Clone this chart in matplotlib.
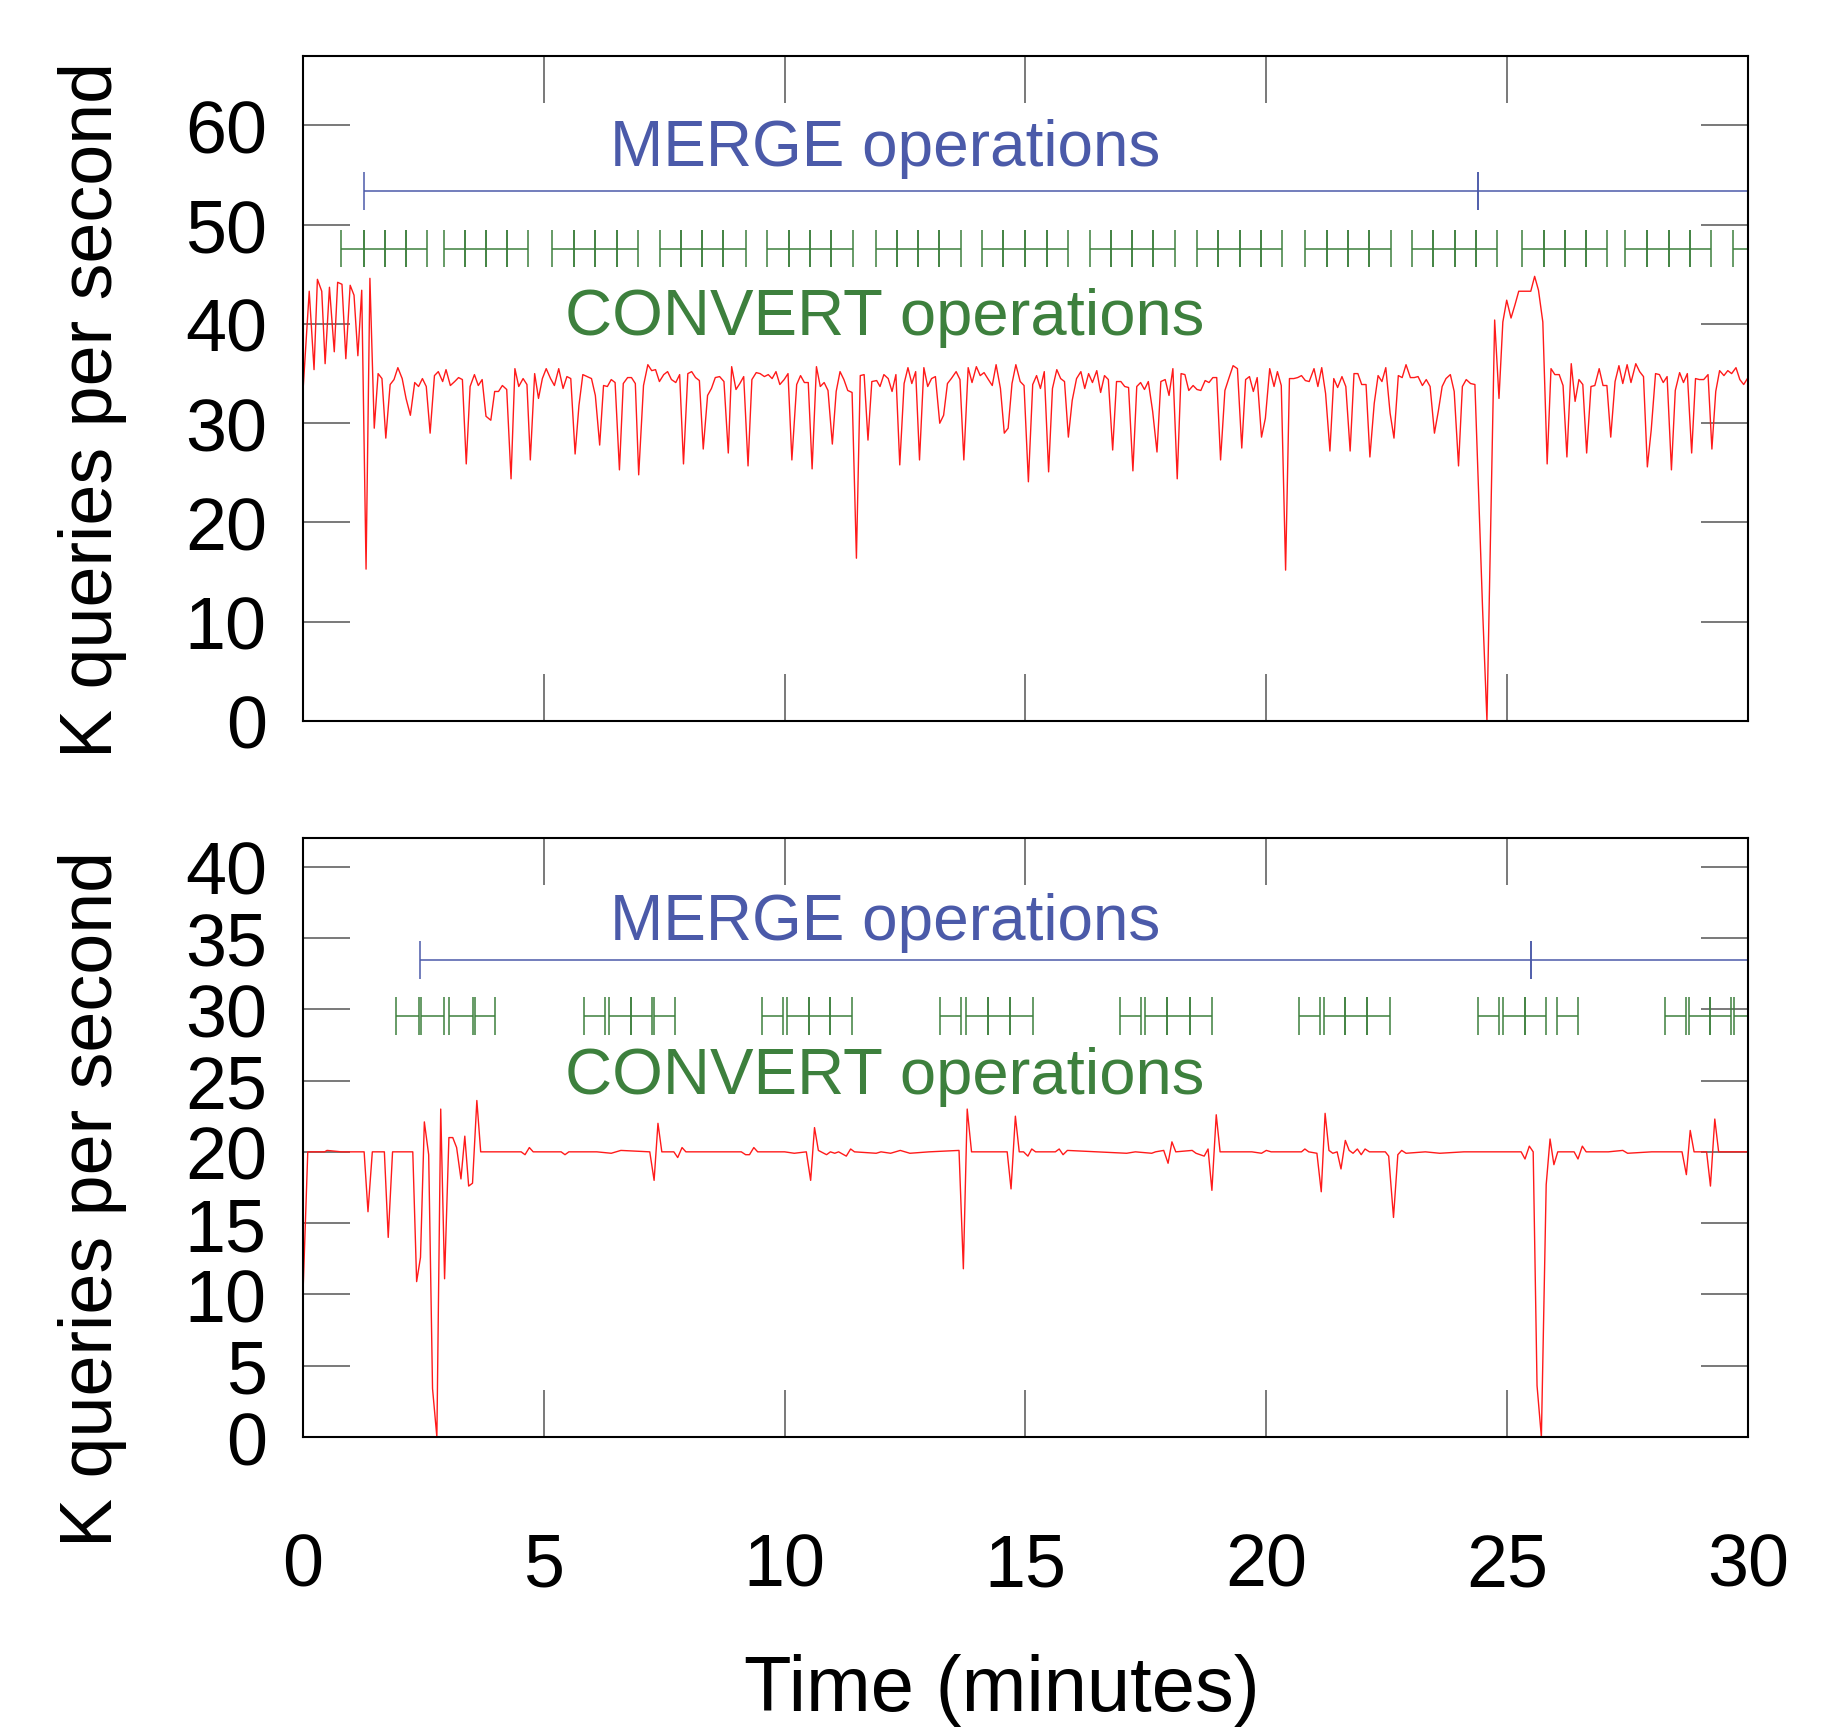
import matplotlib.pyplot as plt

plt.rcParams['font.family'] = ['Liberation Sans', 'DejaVu Sans']

# ---- top panel: throughput (K queries/s) sampled every ~5 s ----
top_t = [0.00, 0.13, 0.23, 0.30, 0.39, 0.46, 0.55, 0.65, 0.72, 0.81,
         0.89, 0.98, 1.06, 1.14, 1.22, 1.31, 1.39, 1.48, 1.56, 1.64,
         1.72, 1.81, 1.89, 1.97, 2.06, 2.14, 2.23, 2.32, 2.40, 2.48,
         2.56, 2.64, 2.73, 2.81, 2.90, 2.97, 3.06, 3.15, 3.23, 3.31,
         3.39, 3.47, 3.56, 3.64, 3.72, 3.80, 3.90, 3.98, 4.06, 4.14,
         4.23, 4.32, 4.40, 4.48, 4.57, 4.65, 4.72, 4.81, 4.89, 4.97,
         5.05, 5.14, 5.22, 5.31, 5.40, 5.48, 5.56, 5.65, 5.73, 5.81,
         5.90, 5.99, 6.07, 6.16, 6.24, 6.32, 6.40, 6.48, 6.57, 6.65,
         6.74, 6.82, 6.90, 6.97, 7.07, 7.16, 7.24, 7.32, 7.40, 7.49,
         7.57, 7.65, 7.74, 7.82, 7.90, 7.99, 8.07, 8.15, 8.23, 8.31,
         8.40, 8.48, 8.56, 8.65, 8.74, 8.83, 8.90, 8.99, 9.07, 9.15,
         9.24, 9.32, 9.41, 9.49, 9.58, 9.66, 9.74, 9.82, 9.90, 9.99,
         10.07, 10.15, 10.25, 10.33, 10.41, 10.49, 10.57, 10.66, 10.74, 10.82,
         10.90, 10.99, 11.07, 11.15, 11.23, 11.31, 11.40, 11.49, 11.57, 11.65,
         11.73, 11.81, 11.91, 11.98, 12.06, 12.15, 12.23, 12.31, 12.39, 12.48,
         12.56, 12.64, 12.72, 12.80, 12.89, 12.97, 13.05, 13.13, 13.22, 13.30,
         13.38, 13.46, 13.56, 13.64, 13.72, 13.81, 13.89, 13.98, 14.06, 14.14,
         14.23, 14.31, 14.39, 14.48, 14.56, 14.64, 14.72, 14.80, 14.89, 14.97,
         15.06, 15.15, 15.23, 15.31, 15.39, 15.48, 15.56, 15.65, 15.73, 15.81,
         15.89, 15.97, 16.06, 16.15, 16.23, 16.31, 16.39, 16.48, 16.56, 16.64,
         16.72, 16.81, 16.89, 16.98, 17.06, 17.14, 17.23, 17.31, 17.39, 17.47,
         17.55, 17.64, 17.73, 17.81, 17.90, 17.98, 18.06, 18.15, 18.23, 18.31,
         18.39, 18.48, 18.56, 18.64, 18.73, 18.81, 18.89, 18.97, 19.05, 19.14,
         19.22, 19.31, 19.40, 19.49, 19.57, 19.65, 19.73, 19.81, 19.90, 19.98,
         20.07, 20.16, 20.23, 20.31, 20.40, 20.48, 20.57, 20.65, 20.73, 20.81,
         20.89, 20.99, 21.07, 21.15, 21.23, 21.32, 21.40, 21.48, 21.57, 21.65,
         21.74, 21.82, 21.90, 21.98, 22.07, 22.15, 22.24, 22.32, 22.40, 22.48,
         22.57, 22.65, 22.74, 22.82, 22.90, 22.99, 23.07, 23.15, 23.24, 23.32,
         23.40, 23.49, 23.57, 23.65, 23.73, 23.82, 23.90, 23.99, 24.07, 24.15,
         24.24, 24.33, 24.41, 24.49, 24.58, 24.66, 24.74, 24.83, 24.91, 24.99,
         25.08, 25.16, 25.24, 25.33, 25.41, 25.49, 25.57, 25.65, 25.74, 25.83,
         25.91, 25.99, 26.08, 26.16, 26.24, 26.33, 26.41, 26.49, 26.57, 26.65,
         26.74, 26.82, 26.91, 26.99, 27.07, 27.15, 27.24, 27.32, 27.40, 27.49,
         27.57, 27.67, 27.75, 27.83, 27.91, 27.99, 28.08, 28.16, 28.24, 28.32,
         28.41, 28.49, 28.58, 28.66, 28.74, 28.83, 28.91, 28.99, 29.08, 29.17,
         29.25, 29.33, 29.41, 29.50, 29.58, 29.66, 29.75, 29.83, 29.91, 30.00]
top_q = [33.2, 43.3, 35.4, 44.5, 43.3, 36.0, 43.7, 37.2, 44.2, 44.0,
         36.5, 43.9, 42.9, 36.8, 43.4, 15.3, 44.6, 29.5, 35.0, 34.5,
         28.5, 33.9, 34.4, 35.6, 34.5, 32.5, 30.8, 34.1, 33.7, 34.5,
         33.7, 29.0, 34.8, 35.2, 34.2, 35.4, 33.8, 34.2, 34.6, 34.4,
         25.9, 33.7, 34.9, 33.8, 34.4, 30.7, 30.3, 33.2, 33.2, 33.8,
         33.4, 24.4, 35.5, 33.7, 34.5, 33.9, 26.3, 35.0, 32.5, 34.5,
         35.5, 34.5, 33.8, 35.5, 33.5, 34.7, 34.5, 26.9, 31.8, 34.9,
         34.7, 34.5, 32.8, 27.8, 33.8, 33.7, 34.4, 34.1, 25.3, 34.0,
         34.6, 34.6, 34.0, 24.8, 33.8, 35.9, 35.3, 35.4, 34.2, 34.9,
         35.2, 34.4, 34.1, 34.9, 25.9, 35.0, 35.2, 34.6, 34.3, 27.4,
         32.8, 33.5, 34.6, 34.7, 34.2, 27.0, 35.7, 33.4, 34.0, 34.7,
         25.7, 34.4, 35.1, 35.0, 34.7, 34.9, 34.5, 35.2, 33.9, 34.4,
         35.0, 26.3, 33.9, 34.8, 34.1, 34.1, 25.4, 35.7, 33.7, 34.1,
         33.3, 27.9, 33.2, 35.2, 34.4, 33.3, 33.1, 16.4, 34.8, 34.9,
         28.3, 34.2, 34.3, 33.7, 34.9, 34.5, 33.2, 34.9, 25.8, 34.0,
         35.6, 34.0, 35.2, 26.3, 35.6, 33.7, 34.5, 34.7, 30.0, 30.8,
         34.0, 34.5, 35.2, 34.4, 26.3, 35.6, 34.1, 35.7, 34.8, 35.1,
         34.4, 33.8, 35.9, 33.5, 29.0, 29.5, 34.0, 35.9, 34.2, 33.8,
         24.1, 33.9, 34.8, 33.5, 35.2, 25.1, 33.5, 35.4, 34.5, 34.2,
         28.6, 32.3, 34.5, 35.2, 33.5, 35.0, 34.1, 35.3, 33.1, 34.8,
         34.4, 27.3, 34.2, 34.2, 33.7, 33.6, 25.2, 33.7, 34.1, 33.4,
         34.2, 31.2, 27.1, 34.2, 34.4, 32.8, 35.5, 24.4, 35.0, 34.9,
         33.3, 33.8, 33.4, 33.3, 34.3, 34.1, 34.6, 34.6, 26.3, 33.3,
         34.5, 35.8, 35.5, 27.5, 34.4, 34.7, 33.2, 34.6, 28.6, 30.5,
         35.5, 33.7, 35.2, 33.8, 15.2, 34.5, 34.5, 34.6, 34.8, 34.3,
         34.2, 35.5, 33.7, 35.6, 33.0, 27.2, 34.5, 33.6, 34.7, 33.7,
         27.2, 35.0, 35.0, 33.9, 33.9, 26.6, 32.0, 34.8, 34.2, 35.6,
         31.0, 28.5, 34.8, 34.6, 35.9, 34.6, 34.6, 34.7, 33.8, 34.4,
         33.7, 29.0, 31.2, 33.7, 34.5, 34.9, 33.2, 25.7, 33.7, 34.4,
         34.0, 33.9, 22.5, 11.2, 0.0, 20.2, 40.4, 32.5, 40.2, 42.4,
         40.6, 41.9, 43.3, 43.3, 43.3, 43.3, 44.8, 43.4, 40.2, 25.9,
         35.5, 34.9, 34.9, 33.8, 26.6, 36.0, 32.2, 34.4, 33.9, 27.0,
         33.7, 33.8, 35.5, 33.8, 33.8, 28.6, 34.2, 35.8, 34.0, 35.9,
         34.1, 36.0, 35.2, 34.7, 25.6, 29.3, 35.0, 34.9, 34.1, 34.7,
         25.3, 33.3, 35.1, 34.1, 35.0, 27.0, 34.5, 34.4, 34.4, 34.9,
         27.4, 33.2, 35.3, 34.8, 35.3, 35.0, 35.6, 34.4, 33.9, 34.6]

top_merge_start = [1.26, 24.39]
top_merge_end = [24.39, 47.50]
top_convert_start = [0.79, 1.26, 1.70, 2.13, 2.92, 3.36, 3.79, 4.24,
                     5.17, 5.62, 6.07, 6.51, 7.41, 7.85, 8.29, 8.73,
                     9.64, 10.09, 10.52, 10.96, 11.89, 12.33, 12.77, 13.21,
                     14.10, 14.54, 14.99, 15.44, 16.34, 16.78, 17.21, 17.65,
                     18.56, 19.00, 19.45, 19.89, 20.81, 21.26, 21.70, 22.13,
                     23.03, 23.47, 23.92, 24.35, 25.31, 25.77, 26.20, 26.64,
                     27.45, 27.90, 28.35, 28.79, 29.69]
top_convert_end = [1.26, 1.70, 2.13, 2.57, 3.36, 3.79, 4.24, 4.68,
                   5.62, 6.07, 6.51, 6.95, 7.85, 8.29, 8.73, 9.19,
                   10.09, 10.52, 10.96, 11.41, 12.33, 12.77, 13.21, 13.66,
                   14.54, 14.99, 15.44, 15.88, 16.78, 17.21, 17.65, 18.10,
                   19.00, 19.45, 19.89, 20.33, 21.26, 21.70, 22.13, 22.58,
                   23.47, 23.92, 24.35, 24.79, 25.77, 26.20, 26.64, 27.08,
                   27.90, 28.35, 28.79, 29.23, 30.13]

# ---- bottom panel ----
bot_t = [0.00, 0.10, 0.45, 0.50, 0.80, 1.27, 1.35, 1.44, 1.69, 1.77,
         1.86, 2.28, 2.36, 2.44, 2.52, 2.61, 2.69, 2.78, 2.86, 2.94,
         3.03, 3.11, 3.19, 3.28, 3.36, 3.44, 3.52, 3.61, 3.69, 4.20,
         4.53, 4.61, 4.70, 4.78, 5.20, 5.36, 5.44, 5.52, 6.10, 6.40,
         6.60, 7.20, 7.29, 7.37, 7.45, 7.70, 7.78, 7.87, 7.95, 8.60,
         9.10, 9.19, 9.27, 9.36, 9.44, 10.00, 10.20, 10.45, 10.54, 10.62,
         10.70, 10.87, 10.95, 11.04, 11.12, 11.28, 11.37, 11.45, 11.90, 12.00,
         12.20, 12.40, 12.60, 13.00, 13.62, 13.71, 13.79, 13.88, 14.30, 14.62,
         14.70, 14.79, 14.87, 14.96, 15.05, 15.13, 15.21, 15.62, 15.70, 15.78,
         15.87, 16.50, 17.10, 17.28, 17.62, 17.70, 17.87, 17.96, 18.04, 18.12,
         18.46, 18.54, 18.71, 18.79, 18.87, 18.96, 19.04, 19.70, 19.90, 20.00,
         20.10, 20.50, 20.73, 20.80, 20.88, 21.05, 21.14, 21.22, 21.30, 21.38,
         21.47, 21.55, 21.64, 21.72, 21.80, 21.89, 21.97, 22.05, 22.14, 22.47,
         22.54, 22.64, 22.73, 22.81, 22.90, 23.30, 23.60, 24.10, 24.60, 25.29,
         25.37, 25.46, 25.54, 25.62, 25.71, 25.81, 25.89, 25.97, 26.05, 26.39,
         26.47, 26.56, 26.64, 27.10, 27.40, 27.50, 28.00, 28.55, 28.63, 28.72,
         28.80, 28.88, 29.14, 29.22, 29.31, 29.39, 29.70, 30.00]
bot_q = [10.0, 20.0, 20.0, 20.1, 20.0, 20.0, 15.8, 20.0, 20.0, 14.0,
         20.0, 20.0, 10.9, 12.6, 22.1, 19.8, 3.4, 0.0, 23.0, 11.1,
         21.0, 21.0, 20.3, 18.1, 21.1, 17.6, 17.8, 23.6, 20.0, 20.0,
         20.0, 19.8, 20.3, 20.0, 20.0, 20.0, 19.8, 20.0, 20.0, 19.9,
         20.1, 20.0, 18.0, 22.0, 20.0, 20.0, 19.6, 20.3, 20.0, 20.0,
         20.0, 19.8, 19.8, 20.3, 20.0, 20.0, 19.9, 20.0, 18.0, 21.7,
         20.1, 19.8, 20.0, 19.9, 20.0, 19.7, 20.2, 20.0, 19.9, 20.0,
         19.9, 20.1, 19.9, 20.0, 20.1, 11.8, 23.0, 20.0, 20.0, 20.0,
         17.4, 22.5, 20.0, 20.0, 19.7, 20.2, 20.0, 20.0, 20.2, 19.8,
         20.1, 20.0, 19.9, 20.0, 19.9, 20.0, 20.1, 19.2, 20.7, 20.0,
         20.1, 19.9, 19.7, 20.2, 17.3, 22.6, 20.0, 20.0, 19.9, 20.1,
         20.0, 20.0, 20.0, 20.2, 20.0, 19.9, 17.2, 22.7, 20.1, 19.9,
         20.0, 18.8, 20.8, 20.1, 19.9, 20.2, 19.8, 20.2, 20.0, 20.0,
         19.7, 15.4, 19.8, 20.1, 19.9, 20.0, 19.9, 20.0, 20.0, 20.0,
         19.5, 20.4, 20.0, 3.6, 0.0, 17.7, 20.9, 19.1, 20.0, 20.0,
         19.5, 20.4, 20.0, 20.0, 20.1, 19.9, 20.0, 20.0, 20.0, 18.4,
         21.5, 20.0, 20.0, 17.6, 22.3, 20.0, 20.0, 20.0]

bot_merge_start = [2.42, 25.49]
bot_merge_end = [25.49, 48.60]
bot_convert_start = [1.94, 2.45, 3.04, 3.57, 5.84, 6.36, 6.82, 7.28,
                     9.52, 10.05, 10.51, 10.95, 13.22, 13.77, 14.23, 14.68,
                     16.97, 17.48, 17.94, 18.41, 20.67, 21.19, 21.63, 22.09,
                     24.39, 24.91, 25.36, 26.03, 28.28, 28.77, 29.21, 29.71]
bot_convert_end = [2.40, 2.93, 3.52, 3.99, 6.28, 6.82, 7.24, 7.73,
                   9.96, 10.51, 10.95, 11.40, 13.66, 14.23, 14.68, 15.15,
                   17.40, 17.94, 18.41, 18.87, 21.11, 21.63, 22.09, 22.57,
                   24.83, 25.36, 25.80, 26.48, 28.71, 29.21, 29.64, 30.15]

MERGE_C = '#4b5aa9'
CONV_C = '#3d803d'
LINE_C = '#ff1a1a'


def intervals(ax, starts, ends, y, half, color):
    ax.hlines([y] * len(starts), starts, ends, color=color, lw=1.1)
    ax.vlines(list(starts) + list(ends), y - half, y + half, color=color, lw=1.1)


def style(ax, ymax, yticks):
    ax.set_xlim(0, 30)
    ax.set_ylim(0, ymax)
    ax.set_xticks(range(0, 31, 5))
    ax.set_yticks(yticks)
    ax.tick_params(direction='in', length=34, width=1.1, color='#555555',
                   top=True, right=True, labelsize=53)
    ax.tick_params(axis='y', pad=26)
    ax.tick_params(axis='x', pad=68)
    for s in ax.spines.values():
        s.set_linewidth(1.5)


fig = plt.figure(figsize=(18.35, 17.33), dpi=100)
ax1 = fig.add_axes([0.1651, 0.5834, 0.7875, 0.3837])
ax2 = fig.add_axes([0.1651, 0.1702, 0.7875, 0.3456])

# top
style(ax1, 67, range(0, 61, 10))
ax1.tick_params(labelbottom=False)
intervals(ax1, top_merge_start, top_merge_end, 53.4, 1.9, MERGE_C)
intervals(ax1, top_convert_start, top_convert_end, 47.6, 1.9, CONV_C)
ax1.plot(top_t, top_q, color=LINE_C, lw=1.0)
ax1.text(12.08, 56.0, 'MERGE operations', color=MERGE_C, fontsize=46,
         ha='center', va='baseline')
ax1.text(12.08, 39.0, 'CONVERT operations', color=CONV_C, fontsize=47,
         ha='center', va='baseline')

# bottom
style(ax2, 42, range(0, 41, 5))
intervals(ax2, bot_merge_start, bot_merge_end, 33.45, 1.33, MERGE_C)
intervals(ax2, bot_convert_start, bot_convert_end, 29.5, 1.33, CONV_C)
ax2.plot(bot_t, bot_q, color=LINE_C, lw=1.0)
ax2.text(12.08, 34.9, 'MERGE operations', color=MERGE_C, fontsize=46,
         ha='center', va='baseline')
ax2.text(12.08, 24.1, 'CONVERT operations', color=CONV_C, fontsize=47,
         ha='center', va='baseline')

fig.text(0.0505, 0.7634, 'K queries per second', rotation=90, fontsize=53,
         ha='center', va='center')
fig.text(0.0505, 0.3081, 'K queries per second', rotation=90, fontsize=53,
         ha='center', va='center')
fig.text(0.546, 0.0125, 'Time (minutes)', fontsize=56, ha='center', va='baseline')

fig.savefig('out.png', dpi=100)
